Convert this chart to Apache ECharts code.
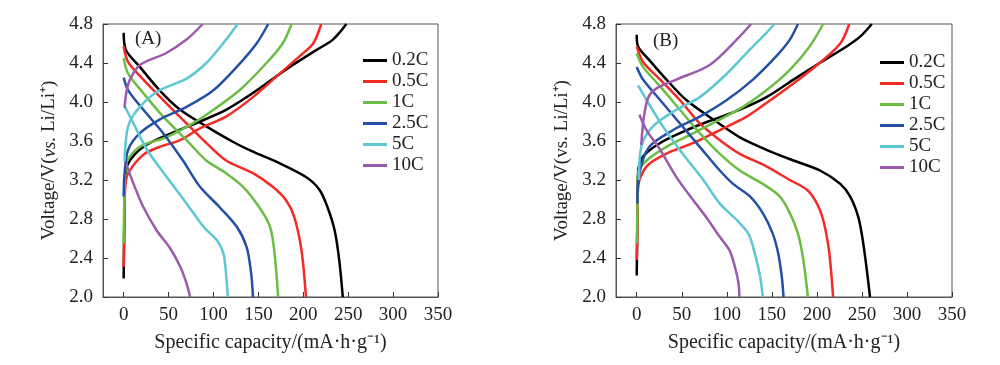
<!DOCTYPE html>
<html>
<head>
<meta charset="utf-8">
<script src="https://cdn.jsdelivr.net/npm/echarts@6/dist/echarts.min.js"></script>
<style>html,body{margin:0;padding:0;background:#fff}#c{width:1000px;height:365px}</style>
</head>
<body>
<div id="c"></div>
<script>
const rates = ['0.2C', '0.5C', '1C', '2.5C', '5C', '10C'];
const capTicks = [0, 50, 100, 150, 200, 250, 300, 350];
const voltTicks = [2.0, 2.4, 2.8, 3.2, 3.6, 4.0, 4.4, 4.8];

// Panel A: charge curves [capacity, voltage]
const aCharge02 = [[0,2.19],[0.5,2.6],[1.5,3.2],[5,3.37],[22,3.54],[48,3.66],[85,3.80],[114,3.92],[137,4.05],[159,4.19],[185,4.36],[214,4.53],[233,4.64],[248,4.8]];
const aCharge05 = [[0,2.31],[0.5,2.55],[1,2.9],[2,3.15],[5,3.27],[22,3.46],[40,3.54],[63,3.61],[85,3.73],[114,3.85],[144,4.05],[170,4.26],[196,4.47],[211,4.6],[220,4.8]];
const aCharge1 = [[0,2.55],[0.8,3.0],[3,3.37],[18,3.54],[48,3.64],[77,3.78],[100,3.92],[129,4.12],[159,4.40],[177,4.60],[187,4.8]];
const aCharge25 = [[0,3.03],[1,3.27],[5,3.51],[18,3.68],[40,3.82],[70,3.95],[100,4.12],[126,4.36],[148,4.60],[161,4.8]];
const aCharge5 = [[1,3.39],[5,3.75],[18,3.95],[40,4.12],[70,4.24],[92,4.40],[114,4.64],[127,4.8]];
const aCharge10 = [[1,3.94],[3,4.1],[7,4.23],[18,4.38],[47,4.50],[70,4.64],[88,4.8]];
// Panel A: discharge curves
const aDis02 = [[0,4.71],[2.6,4.53],[18,4.36],[40,4.12],[63,3.92],[92,3.75],[122,3.59],[144,3.49],[174,3.37],[203,3.23],[218,3.10],[227,2.92],[235,2.68],[240,2.38],[244,2.0]];
const aDis05 = [[0,4.57],[5,4.41],[22,4.23],[44,4.02],[70,3.78],[92,3.58],[114,3.40],[144,3.27],[166,3.13],[181,2.99],[190,2.82],[198,2.48],[203,2.0]];
const aDis1 = [[0,4.45],[5,4.29],[22,4.09],[44,3.85],[70,3.61],[92,3.40],[114,3.27],[133,3.13],[151,2.92],[163,2.72],[168,2.45],[172,2.0]];
const aDis25 = [[0,4.25],[5,4.12],[22,3.92],[44,3.68],[66,3.40],[85,3.13],[107,2.92],[126,2.72],[137,2.51],[142,2.24],[144,2.0]];
const aDis5 = [[1.5,3.95],[11,3.78],[26,3.51],[48,3.23],[70,2.96],[89,2.72],[104,2.58],[111,2.45],[114,2.24],[116,2.0]];
const aDis10 = [[2.6,3.37],[11,3.16],[22,2.92],[37,2.68],[51,2.51],[63,2.31],[70,2.14],[74,2.0]];

// Panel B: charge curves
const bCharge02 = [[0,2.22],[0.5,2.6],[1.5,3.27],[7,3.44],[26,3.58],[55,3.71],[85,3.82],[114,3.92],[144,4.05],[174,4.23],[203,4.40],[233,4.57],[248,4.67],[261,4.8]];
const bCharge05 = [[0,2.38],[0.5,2.6],[1.5,3.13],[11,3.34],[33,3.47],[63,3.58],[92,3.71],[122,3.85],[144,3.99],[174,4.19],[203,4.40],[226,4.60],[236,4.8]];
const bCharge1 = [[0,2.55],[1,3.0],[1.5,3.27],[11,3.40],[33,3.54],[63,3.68],[92,3.82],[118,3.95],[144,4.12],[170,4.33],[192,4.57],[207,4.8]];
const bCharge25 = [[0.7,2.96],[3,3.27],[14,3.54],[40,3.71],[70,3.85],[100,4.02],[129,4.23],[155,4.47],[170,4.64],[179,4.8]];
const bCharge5 = [[2.6,3.20],[5,3.54],[18,3.75],[44,3.92],[70,4.05],[100,4.29],[129,4.57],[144,4.71],[153,4.8]];
const bCharge10 = [[5,3.56],[8,3.85],[13,4.05],[22,4.14],[44,4.23],[81,4.38],[111,4.64],[127,4.8]];
// Panel B: discharge curves
const bDis02 = [[0,4.69],[1.5,4.57],[14,4.43],[33,4.23],[55,4.02],[85,3.82],[114,3.64],[144,3.51],[174,3.40],[203,3.30],[226,3.16],[237,3.03],[246,2.82],[251,2.58],[255,2.31],[259,2.0]];
const bDis05 = [[0,4.57],[7,4.41],[26,4.23],[48,4.02],[70,3.78],[92,3.61],[114,3.47],[144,3.34],[170,3.20],[189,3.10],[200,2.96],[207,2.79],[213,2.51],[216,2.24],[218,2.0]];
const bDis1 = [[0,4.50],[7,4.36],[26,4.16],[48,3.92],[70,3.68],[92,3.47],[114,3.30],[140,3.16],[159,3.03],[170,2.86],[179,2.65],[185,2.38],[190,2.0]];
const bDis25 = [[0,4.36],[7,4.23],[26,4.02],[48,3.78],[70,3.54],[92,3.30],[107,3.16],[126,3.03],[140,2.86],[151,2.65],[157,2.45],[161,2.21],[163,2.0]];
const bDis5 = [[1.5,4.17],[11,4.02],[29,3.75],[51,3.47],[74,3.20],[92,2.96],[111,2.79],[124,2.65],[131,2.45],[137,2.21],[140,2.0]];
const bDis10 = [[3,3.87],[11,3.71],[26,3.51],[44,3.23],[63,2.99],[77,2.82],[92,2.62],[103,2.48],[109,2.31],[113,2.14],[114,2.0]];

const colors = ['#000000', '#f42a25', '#6cbd45', '#2450a6', '#5dc8d4', '#9c5aad'];
const FONT = 'Liberation Serif';

const panels = [
  { charge: [aCharge02, aCharge05, aCharge1, aCharge25, aCharge5, aCharge10],
    dis: [aDis02, aDis05, aDis1, aDis25, aDis5, aDis10] },
  { charge: [bCharge02, bCharge05, bCharge1, bCharge25, bCharge5, bCharge10],
    dis: [bDis02, bDis05, bDis1, bDis25, bDis5, bDis10] }
];

const series = [];
panels.forEach((p, gi) => {
  rates.forEach((r, i) => {
    [p.charge[i], p.dis[i]].forEach(d => {
      series.push({
        type: 'line', name: r, xAxisIndex: gi, yAxisIndex: gi, data: d,
        showSymbol: false, symbol: 'none', smooth: 0.3,
        lineStyle: { width: 2.5, color: colors[i] }, itemStyle: { color: colors[i] },
        emphasis: { disabled: true }, animation: false, z: 2 + i
      });
    });
  });
});

function xAxis(gi) {
  return {
    type: 'value', gridIndex: gi, min: -23, max: 350,
    axisLine: { show: true, onZero: false, lineStyle: { color: '#555', width: 1 } },
    axisTick: { show: true, inside: true, length: 5, customValues: capTicks, lineStyle: { color: '#333' } },
    axisLabel: { customValues: capTicks, fontFamily: FONT, fontSize: 19, color: '#222', margin: 9 },
    splitLine: { show: false },
    name: 'Specific capacity/(mA·h·g⁻¹)', nameLocation: 'middle', nameGap: 36,
    nameTextStyle: { fontFamily: FONT, fontSize: 20, color: '#222' }
  };
}
function yAxis(gi, name) {
  return {
    type: 'value', gridIndex: gi, min: 2.0, max: 4.8, interval: 0.4,
    axisLine: { show: true, onZero: false, lineStyle: { color: '#555', width: 1 } },
    axisTick: { show: true, inside: true, length: 5, lineStyle: { color: '#333' } },
    axisLabel: { fontFamily: FONT, fontSize: 19, color: '#222', margin: 10, formatter: v => v.toFixed(1) },
    splitLine: { show: false },
    name: name, nameLocation: 'middle', nameGap: 44,
    nameTextStyle: { fontFamily: FONT, fontSize: 19, color: '#222',
      rich: { i: { fontFamily: FONT, fontSize: 19, fontStyle: 'italic', color: '#222' } } }
  };
}
function legend(left, top) {
  return {
    orient: 'vertical', left: left, top: top, data: rates, icon: 'rect',
    itemWidth: 24, itemHeight: 3, itemGap: 2, padding: 0,
    textStyle: { fontFamily: FONT, fontSize: 19, color: '#222', lineHeight: 18, padding: [0, 0, 0, 0] },
    selectedMode: false
  };
}

const chart = echarts.init(document.getElementById('c'), null, { renderer: 'canvas' });
chart.setOption({
  animation: false,
  backgroundColor: '#fff',
  grid: [
    { left: 103, top: 24, width: 335, height: 273, show: true, borderColor: '#555', borderWidth: 1, containLabel: false },
    { left: 616, top: 24, width: 336, height: 273, show: true, borderColor: '#555', borderWidth: 1, containLabel: false }
  ],
  title: [
    { text: '(A)', left: 135, top: 30, padding: 0, textStyle: { fontFamily: FONT, fontSize: 19, fontWeight: 'normal', color: '#222' } },
    { text: '(B)', left: 653, top: 32, padding: 0, textStyle: { fontFamily: FONT, fontSize: 19, fontWeight: 'normal', color: '#222' } }
  ],
  legend: [legend(363, 51), legend(880, 53)],
  xAxis: [xAxis(0), xAxis(1)],
  yAxis: [yAxis(0, 'Voltage/V({i|vs.} Li/Li⁺)'), yAxis(1, 'Voltage/V(vs. Li/Li⁺)')],
  series: series
});
</script>
</body>
</html>
